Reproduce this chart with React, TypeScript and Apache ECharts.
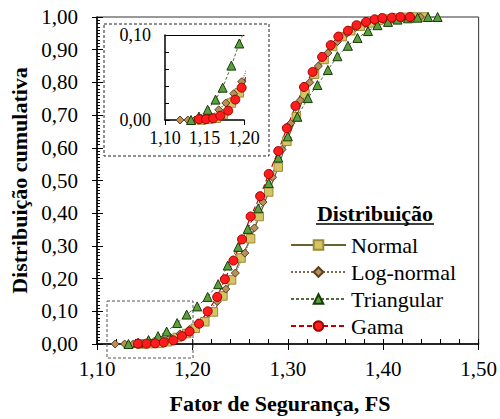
import React, { useEffect, useRef } from "react";
import * as echarts from "echarts";

// ---- data ----
const normalX = [1.146, 1.155, 1.165, 1.174, 1.184, 1.194, 1.203, 1.213, 1.222, 1.232, 1.241, 1.251, 1.261, 1.270, 1.280, 1.290, 1.299, 1.309, 1.318, 1.328, 1.338, 1.347, 1.357, 1.366, 1.376, 1.386, 1.395, 1.405, 1.414, 1.424, 1.434, 1.443];
const normalY = [0.000, 0.001, 0.002, 0.007, 0.020, 0.032, 0.048, 0.068, 0.098, 0.147, 0.196, 0.263, 0.322, 0.390, 0.465, 0.541, 0.620, 0.695, 0.765, 0.825, 0.870, 0.910, 0.940, 0.958, 0.972, 0.982, 0.990, 0.994, 0.997, 0.999, 1.000, 1.000];

const logX = [1.119, 1.129, 1.138, 1.148, 1.158, 1.168, 1.177, 1.187, 1.197, 1.206, 1.216, 1.226, 1.235, 1.245, 1.255, 1.265, 1.274, 1.284, 1.294, 1.303, 1.313, 1.323, 1.332, 1.342, 1.352, 1.362, 1.371, 1.381, 1.391, 1.400, 1.410, 1.420, 1.429, 1.439];
const logY = [0.000, 0.000, 0.000, 0.001, 0.004, 0.012, 0.020, 0.031, 0.045, 0.065, 0.095, 0.130, 0.168, 0.217, 0.278, 0.355, 0.434, 0.510, 0.595, 0.675, 0.745, 0.800, 0.850, 0.890, 0.925, 0.950, 0.968, 0.980, 0.988, 0.993, 0.996, 0.998, 0.999, 1.000];

const triX = [1.133, 1.143, 1.154, 1.164, 1.173, 1.184, 1.194, 1.205, 1.216, 1.227, 1.237, 1.248, 1.258, 1.269, 1.280, 1.290, 1.300, 1.310, 1.321, 1.331, 1.342, 1.352, 1.363, 1.373, 1.384, 1.394, 1.405, 1.415, 1.426, 1.436, 1.447, 1.457];
const triY = [0.000, 0.004, 0.012, 0.024, 0.038, 0.064, 0.090, 0.115, 0.144, 0.183, 0.240, 0.297, 0.352, 0.415, 0.492, 0.570, 0.635, 0.695, 0.752, 0.792, 0.838, 0.880, 0.912, 0.936, 0.957, 0.975, 0.985, 0.992, 0.996, 0.998, 1.000, 1.000];

const gamaX = [1.143, 1.152, 1.161, 1.170, 1.180, 1.189, 1.197, 1.207, 1.216, 1.226, 1.234, 1.243, 1.252, 1.261, 1.271, 1.280, 1.290, 1.299, 1.308, 1.317, 1.326, 1.336, 1.345, 1.353, 1.363, 1.372, 1.382, 1.391, 1.399, 1.409, 1.418, 1.428];
const gamaY = [0.001, 0.001, 0.002, 0.005, 0.011, 0.024, 0.038, 0.062, 0.100, 0.144, 0.198, 0.255, 0.320, 0.390, 0.452, 0.520, 0.590, 0.660, 0.728, 0.786, 0.832, 0.878, 0.914, 0.940, 0.958, 0.975, 0.985, 0.993, 0.997, 0.998, 1.000, 1.000];

const seriesNames = ["Normal", "Log-normal", "Triangular", "Gama"];
const xTicksMain = { min: 1.1, max: 1.5, interval: 0.1 };
const yTicksMain = { min: 0, max: 1, interval: 0.1 };
const xTicksInset = { min: 1.1, max: 1.2, interval: 0.05 };
const yTicksInset = { min: 0, max: 0.1, interval: 0.1 };

const FONT = "Liberation Serif";

const zip = (xs: number[], ys: number[]) => xs.map((x, i) => [x, ys[i]]);
const fmt = (v: number) => v.toFixed(2).replace(".", ",");

const styles = [
  { data: zip(normalX, normalY), symbol: "rect", size: 8.5, fill: "#d4c464", border: "#9a8a3a", line: "#6b6030", type: "solid" as any, width: 1.2 },
  { data: zip(logX, logY), symbol: "diamond", size: 8, fill: "#b8915a", border: "#5a4020", line: "#7a6a50", type: "dotted" as any, width: 1.2 },
  { data: zip(triX, triY), symbol: "triangle", size: 9, fill: "#5aa03c", border: "#1a3a0a", line: "#4f6b3f", type: [3, 2] as any, width: 1 },
  { data: zip(gamaX, gamaY), symbol: "circle", size: 9, fill: "#ff1c1c", border: "#a00000", line: "#c00000", type: [5, 3] as any, width: 1.2 },
];

export default function App() {
  const ref = useRef<HTMLDivElement>(null);
  useEffect(() => {
    if (!ref.current) return;
    const chart = echarts.init(ref.current, undefined, { renderer: "svg" });

    const mkSeries = (xi: number, yi: number) =>
      styles.map((s, k) => ({
        name: seriesNames[k],
        type: "line",
        xAxisIndex: xi,
        yAxisIndex: yi,
        data: s.data,
        symbol: s.symbol,
        symbolSize: s.size,
        showSymbol: true,
        clip: true,
        silent: true,
        itemStyle: { color: s.fill, borderColor: s.border, borderWidth: 1 },
        lineStyle: { color: s.line, type: s.type, width: s.width },
        emphasis: { disabled: true },
      }));

    const black = { color: "#000" };
    const lbl = (size: number, margin: number) => ({ formatter: fmt, fontSize: size, color: "#000", fontFamily: FONT, margin });

    chart.setOption({
      animation: false,
      backgroundColor: "#fff",
      grid: [
        { left: 97, right: 21, top: 17, bottom: 75, show: true, borderColor: "#333", borderWidth: 1, backgroundColor: "transparent" },
        { left: 165, top: 35, width: 79, height: 85, show: false },
      ],
      xAxis: [
        {
          gridIndex: 0, type: "value", position: "bottom", ...xTicksMain,
          axisLine: { show: true, lineStyle: { color: "#000", width: 1.5 } },
          axisTick: { show: true, inside: true, length: 5, lineStyle: black },
          minorTick: { show: true, splitNumber: 5, length: 5, lineStyle: black },
          splitLine: { show: false }, minorSplitLine: { show: false },
          axisLabel: lbl(21, 14),
        },
        {
          gridIndex: 0, type: "value", position: "bottom", offset: 0, ...xTicksMain,
          axisLine: { show: false },
          axisTick: { show: true, inside: false, length: 6, lineStyle: black },
          axisLabel: { show: false }, splitLine: { show: false },
        },
        {
          gridIndex: 1, type: "value", position: "bottom", ...xTicksInset,
          axisLine: { show: true, lineStyle: { color: "#000", width: 1.5 } },
          axisTick: { show: true, inside: false, length: 5, lineStyle: black },
          splitLine: { show: false },
          axisLabel: lbl(18, 9),
        },
        {
          gridIndex: 1, type: "value", position: "top", ...xTicksInset,
          axisLine: { show: true, lineStyle: { color: "#000", width: 1.2 } },
          axisTick: { show: false }, axisLabel: { show: false }, splitLine: { show: false },
        },
      ],
      yAxis: [
        {
          gridIndex: 0, type: "value", position: "left", ...yTicksMain,
          name: "Distribuição cumulativa", nameLocation: "middle", nameGap: 63,
          nameTextStyle: { fontSize: 22, fontWeight: "bold", color: "#000", fontFamily: FONT },
          axisLine: { show: true, lineStyle: { color: "#000", width: 1.5 } },
          axisTick: { show: true, inside: true, length: 6, lineStyle: black },
          minorTick: { show: true, splitNumber: 10, length: 3, lineStyle: black },
          splitLine: { show: false }, minorSplitLine: { show: false },
          axisLabel: lbl(21, 19),
        },
        {
          gridIndex: 0, type: "value", position: "left", offset: 0, ...yTicksMain,
          axisLine: { show: false },
          axisTick: { show: true, inside: false, length: 5, lineStyle: black },
          axisLabel: { show: false }, splitLine: { show: false },
        },
        {
          gridIndex: 1, type: "value", position: "left", ...yTicksInset,
          axisLine: { show: true, lineStyle: { color: "#000", width: 1.5 } },
          axisTick: { show: true, inside: true, length: 5, lineStyle: black },
          minorTick: { show: true, splitNumber: 5, length: 4, lineStyle: black },
          splitLine: { show: false }, minorSplitLine: { show: false },
          axisLabel: lbl(18, 14),
        },
      ],
      legend: {
        data: seriesNames,
        orient: "vertical",
        left: 285,
        top: 229,
        itemWidth: 55,
        itemHeight: 12,
        itemGap: 5,
        selectedMode: false,
        textStyle: { fontSize: 22, color: "#000", fontFamily: FONT },
      },
      graphic: [
        {
          type: "rect", z: 1,
          shape: { x: 104, y: 24, width: 165, height: 132 },
          style: { fill: "transparent", stroke: "#222", lineWidth: 1, lineDash: [3, 2] },
        },
        {
          type: "rect", z: 1,
          shape: { x: 107, y: 301, width: 86, height: 57 },
          style: { fill: "transparent", stroke: "#555", lineWidth: 1, lineDash: [3, 2] },
        },
        {
          type: "text", x: 375, y: 202,
          style: { text: "Distribuição", fontSize: 22, fontWeight: "bold", fontFamily: FONT, fill: "#000", align: "center" },
        },
        {
          type: "line",
          shape: { x1: 316, y1: 224, x2: 434, y2: 224 },
          style: { stroke: "#000", lineWidth: 1.5 },
        },
        {
          type: "text", x: 280, y: 392,
          style: { text: "Fator de Segurança, FS", fontSize: 22, fontWeight: "bold", fontFamily: FONT, fill: "#000", align: "center" },
        },
      ],
      series: [...mkSeries(0, 0), ...mkSeries(2, 2)],
    });
    return () => chart.dispose();
  }, []);
  return (
    <>
      <style>{`#chartbox text, #chartbox tspan { font-family: "Liberation Serif", "Times New Roman", serif !important; }`}</style>
      <div id="chartbox" ref={ref} style={{ position: "fixed", left: 0, top: 0, width: 500, height: 419 }} />
    </>
  );
}
